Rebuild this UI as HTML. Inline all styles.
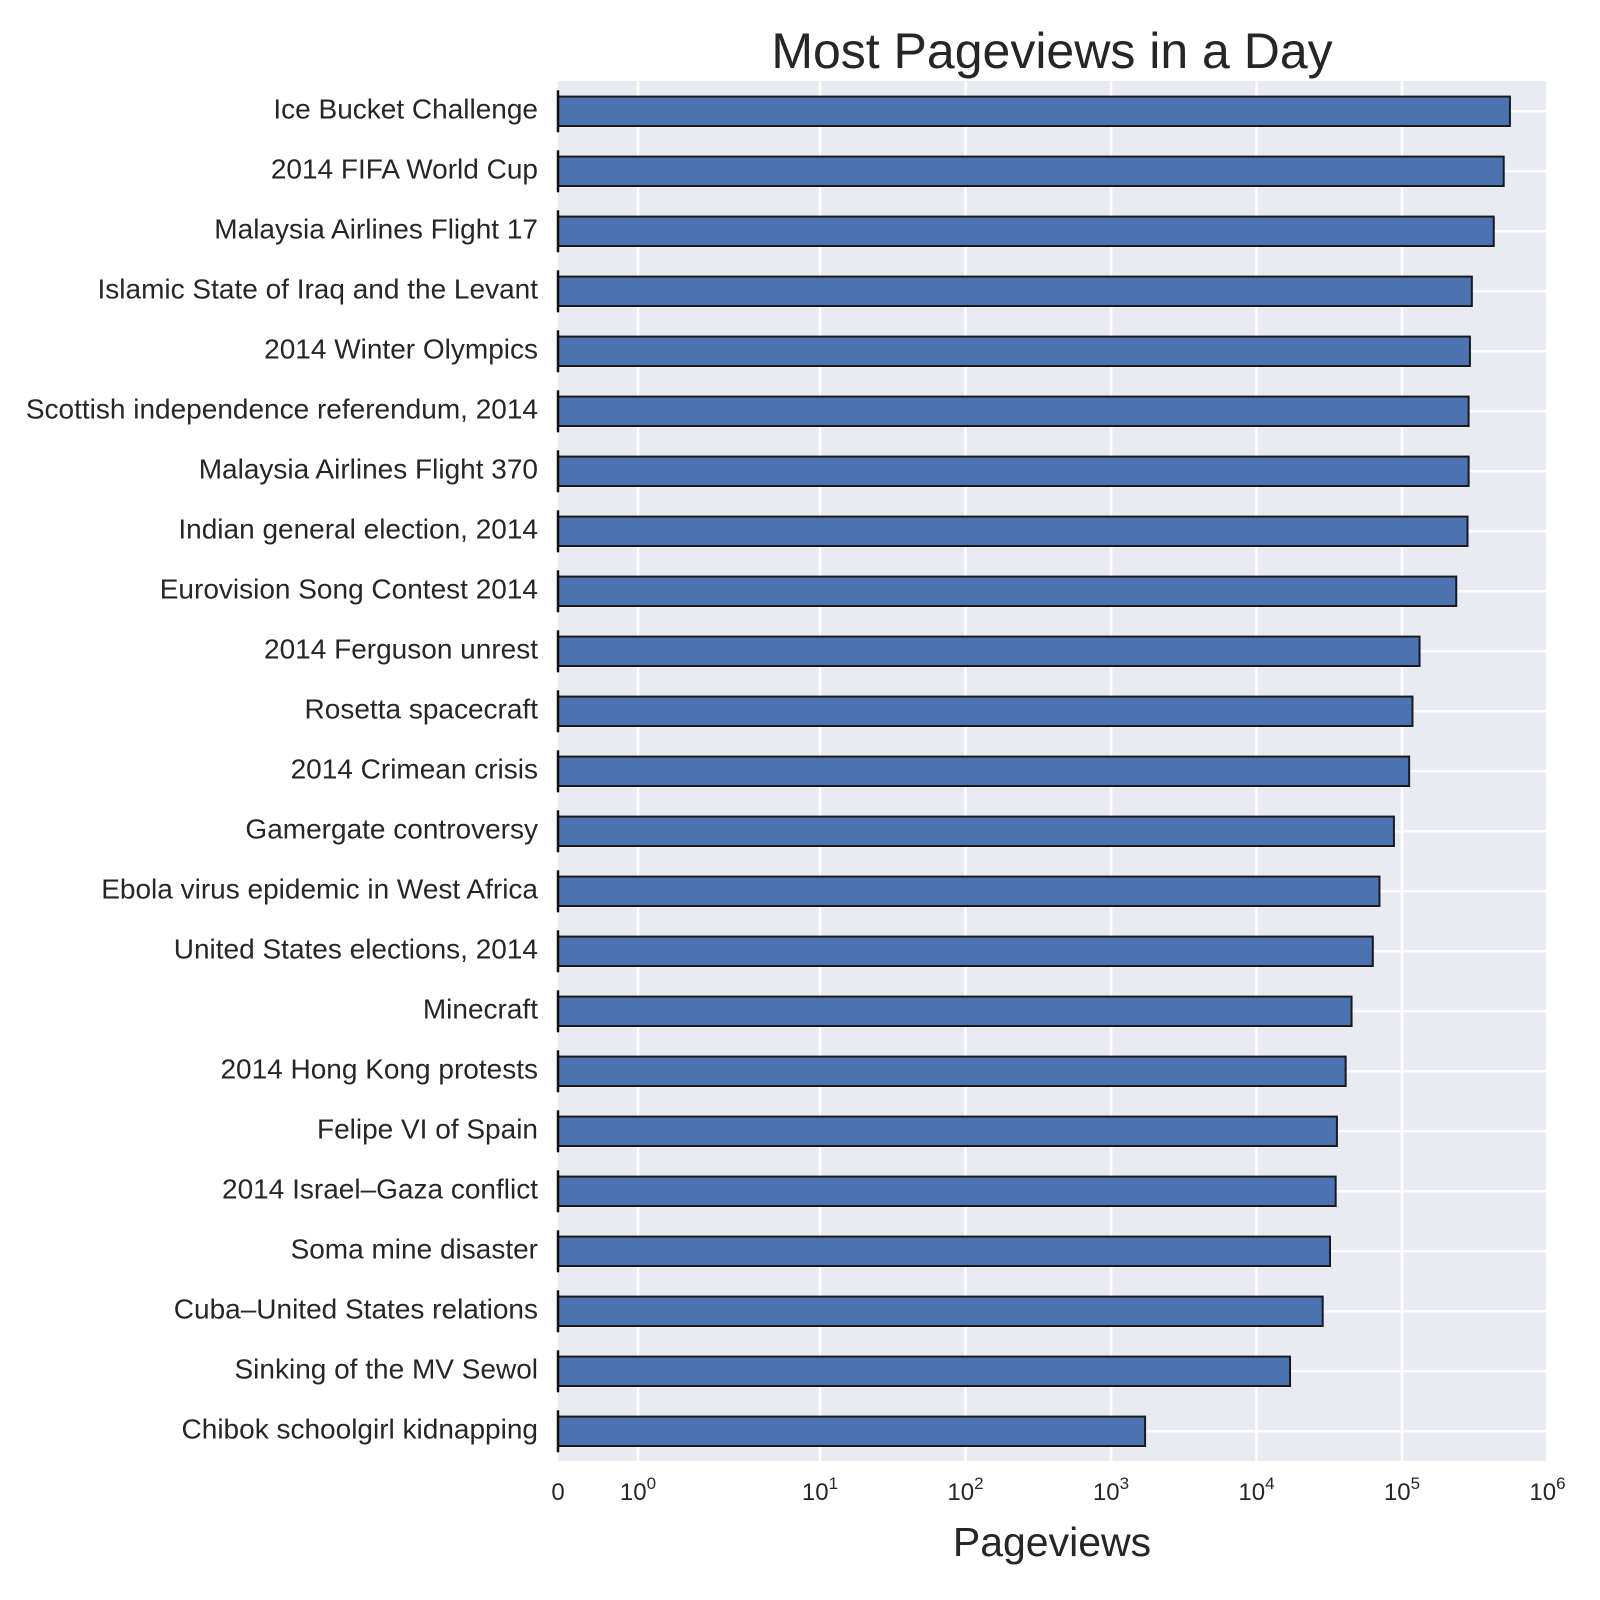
<!DOCTYPE html>
<html><head><meta charset="utf-8"><style>
html,body{margin:0;padding:0;background:#fff;}
svg{display:block;font-family:"Liberation Sans",Arial,sans-serif;}
</style></head><body>
<svg id="chart" width="1600" height="1600" viewBox="0 0 1600 1600">
<text x="1052" y="68" font-size="50" fill="#262626" text-anchor="middle">Most Pageviews in a Day</text>
<rect x="558" y="81" width="988" height="1380" fill="#eaeaf2"/>
<g id="grid"></g><g id="bars"></g><g id="labels"></g><g id="xticks"></g>
<text x="1052" y="1556" font-size="41" fill="#262626" text-anchor="middle">Pageviews</text>
</svg>
<script>
const categories = ["Ice Bucket Challenge","2014 FIFA World Cup","Malaysia Airlines Flight 17","Islamic State of Iraq and the Levant","2014 Winter Olympics","Scottish independence referendum, 2014","Malaysia Airlines Flight 370","Indian general election, 2014","Eurovision Song Contest 2014","2014 Ferguson unrest","Rosetta spacecraft","2014 Crimean crisis","Gamergate controversy","Ebola virus epidemic in West Africa","United States elections, 2014","Minecraft","2014 Hong Kong protests","Felipe VI of Spain","2014 Israel–Gaza conflict","Soma mine disaster","Cuba–United States relations","Sinking of the MV Sewol","Chibok schoolgirl kidnapping"];
const pageviews = [552000,500000,427000,302000,293000,287000,287000,282000,236000,132000,118000,112000,88000,70000,63000,45000,41000,35700,35000,32000,28500,17000,1715];
const tickValues = [0,1,10,100,1000,10000,100000,1000000];
const tickExps = [null,"0","1","2","3","4","5","6"];

const NS="http://www.w3.org/2000/svg";
function mk(t,a,p){const e=document.createElementNS(NS,t);for(const k in a)e.setAttribute(k,a[k]);p.appendChild(e);return e;}
function xScale(v){
  if(v<=0) return 558;
  if(v<1) return 558+80*v;
  if(v<10) return 638+182*Math.log10(v);
  return 820+145.5*(Math.log10(v)-1);
}
function yScale(i){return 111.3+60*i;}
const grid=document.getElementById('grid'),bars=document.getElementById('bars'),labels=document.getElementById('labels'),xt=document.getElementById('xticks');
tickValues.forEach((v,i)=>{
  const x=xScale(v);
  if(v>0&&v<1e6){
    const l=mk('line',{x1:x,x2:x,y1:81,y2:1461,stroke:'#fff','stroke-width':2.5},grid);
    
    
  }
  const t=mk('text',{x:x,y:1500,'font-size':24,fill:'#262626','text-anchor':'middle'},xt);
  
  
  if(tickExps[i]===null){t.textContent='0';}
  else{
    t.textContent='10';
    const s=mk('tspan',{dy:-11,'font-size':17},t);s.textContent=tickExps[i];
  }
});
categories.forEach((c,i)=>{
  const y=yScale(i);
  const g=mk('line',{x1:558,x2:1546,y1:y,y2:y,stroke:'#fff','stroke-width':2.5},grid);
  
  
  const x1=xScale(pageviews[i]);
  const r=mk('rect',{x:558,y:y-14.7,width:x1-558,height:29.4,fill:'#4c72b0',stroke:'#1a1a1a','stroke-width':2},bars);
  
  
  const tk=mk('line',{x1:558,x2:558,y1:y-21,y2:y+21,stroke:'#111','stroke-width':2.5},bars);
  
  
  const t=mk('text',{x:538,y:y+7,'font-size':28,fill:'#262626','text-anchor':'end'},labels);
  
  
  t.textContent=c;
});
</script>
</body></html>
